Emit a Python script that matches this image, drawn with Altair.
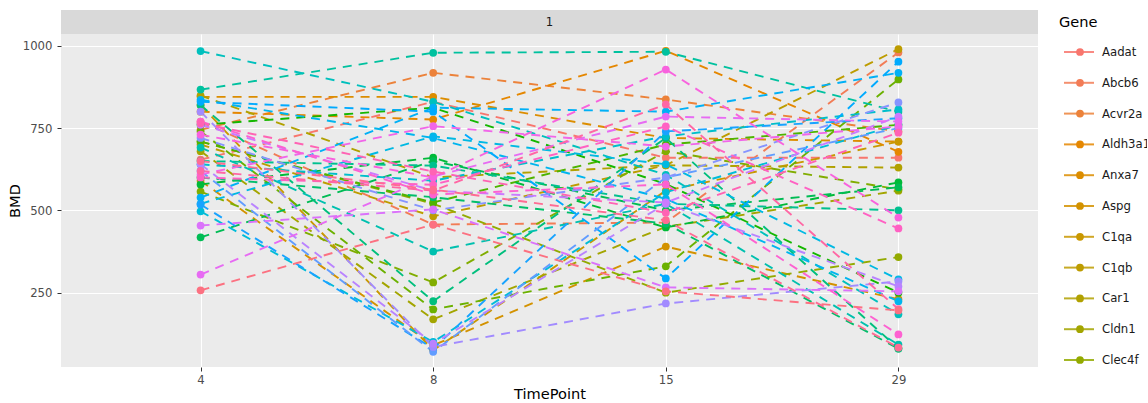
import math
import altair as alt
import pandas as pd

# ---------------- data ----------------
timepoints = [4, 8, 15, 29]
panels = ["1"]
genes = [
    "Aadat", "Abcb6", "Acvr2a", "Aldh3a1", "Anxa7", "Aspg", "C1qa", "C1qb", "Car1", "Cldn1",
    "Clec4f", "Col1a1", "Cxcl9", "Cyp1a2", "Cyp2b10", "Cyp7a1", "Dbp", "Egfr", "Fabp5", "Fgf21",
    "Gadd45b", "Gstm3", "Hamp", "Hmgcs2", "Igfbp1", "Il1b", "Lcn2", "Lpl", "Mt1", "Mt2",
    "Myc", "Nr1i3", "Orm2", "Pck1", "Ppara", "Saa1", "Serpine1", "Slc10a1", "Sult2a1", "Tff3",
    "Tnf", "Ugt2b1", "Vnn1", "Xbp1", "Zfp36",
]
bmd_t4 = [654, 770, 745, 800, 845, 590, 820, 700, 849, 680,
          709, 557, 740, 709, 760, 579, 418, 600, 820, 650,
          867, 691, 984, 640, 497, 520, 836, 539, 830, 518,
          620, 720, 800, 640, 760, 454, 305, 609, 730, 770,
          600, 765, 620, 650, 257]
bmd_t8 = [830, 457, 918, 776, 845, 90, 75, 482, 600, 169,
          520, 281, 199, 524, 812, 660, 650, 540, 224, 636,
          979, 375, 830, 590, 100, 725, 720, 812, 800, 80,
          70, 500, 85, 95, 560, 503, 603, 756, 600, 548,
          578, 618, 560, 563, 457]
bmd_t15 = [660, 463, 837, 985, 720, 390, 560, 637, 637, 450,
           250, 680, 330, 700, 580, 448, 500, 460, 720, 520,
           982, 520, 608, 725, 555, 640, 535, 800, 293, 740,
           600, 600, 217, 520, 524, 266, 785, 694, 928, 579,
           755, 493, 822, 470, 254]
bmd_t29 = [660, 980, 740, 678, 709, 230, 709, 990, 630, 560,
           358, 564, 898, 760, 250, 585, 570, 80, 80, 500,
           800, 92, 184, 807, 760, 290, 224, 918, 952, 780,
           750, 828, 284, 269, 785, 254, 770, 755, 478, 123,
           445, 736, 200, 83, 196]
legend_rows_visible = 11


# ggplot2-style hue palette (hcl, c=100, l=65)
def hcl_hex(h, c=100.0, l=65.0):
    wy, wu, wv = 100.0, 0.1978398, 0.4683363
    hr = math.radians(h)
    U, V = c * math.cos(hr), c * math.sin(hr)
    Y = wy * ((l + 16) / 116) ** 3 if l > 7.999592 else wy * l / 903.3
    u = U / (13 * l) + wu
    v = V / (13 * l) + wv
    X = 9.0 * Y * u / (4 * v)
    Z = -X / 3 - 5 * Y + 3 * Y / v

    def g(t):
        t = 1.055 * t ** (1 / 2.4) - 0.055 if t > 0.00304 else 12.92 * t
        return min(1.0, max(0.0, t))

    r = g((3.240479 * X - 1.537150 * Y - 0.498535 * Z) / wy)
    gg = g((-0.969256 * X + 1.875992 * Y + 0.041556 * Z) / wy)
    b = g((0.055648 * X - 0.204043 * Y + 1.057311 * Z) / wy)
    return "#%02X%02X%02X" % (round(r * 255), round(gg * 255), round(b * 255))


n = len(genes)
colors = [hcl_hex(15 + 360.0 * i / n) for i in range(n)]
color_scale = alt.Scale(domain=genes, range=colors)

rows = []
for gi, g in enumerate(genes):
    for tp, vals in zip(timepoints, [bmd_t4, bmd_t8, bmd_t15, bmd_t29]):
        rows.append({"Gene": g, "TimePoint": tp, "BMD": vals[gi]})
df = pd.DataFrame(rows)

FONT = "DejaVu Sans"
PW, PH = 977, 333

axis_common = dict(
    domain=False, tickColor="#333333", tickSize=4, tickWidth=1,
    labelColor="#4D4D4D", labelFontSize=11.7, labelFont=FONT,
    titleFontSize=14.6, titleFont=FONT, titleColor="#000000", titleFontWeight="normal",
    grid=True, gridColor="#FFFFFF", gridWidth=1.1,
)

base = alt.Chart(df).encode(
    x=alt.X("TimePoint:O", sort=timepoints,
            scale=alt.Scale(type="point", padding=0.6),
            axis=alt.Axis(title="TimePoint", labelAngle=0, labelPadding=3, titlePadding=1, **axis_common)),
    y=alt.Y("BMD:Q", scale=alt.Scale(domain=[24, 1036], nice=False, zero=False),
            axis=alt.Axis(title="BMD", values=[250, 500, 750, 1000], format="d",
                          labelPadding=5, titlePadding=0, **axis_common)),
    color=alt.Color("Gene:N", scale=color_scale, legend=None),
)
lines = base.mark_line(strokeDash=[9, 7], strokeWidth=1.9)
points = base.mark_circle(size=60, opacity=1)
plot = alt.layer(lines, points).properties(
    width=PW, height=PH,
    view=alt.ViewBackground(fill="#EBEBEB", strokeWidth=0),
)

# facet strip
strip_data = alt.Data(values=[{"panel": p} for p in panels])
strip_bg = alt.Chart(strip_data).mark_rect(color="#D9D9D9").encode(
    x=alt.value(0), x2=alt.value(PW), y=alt.value(0), y2=alt.value(24))
strip_txt = alt.Chart(strip_data).mark_text(fontSize=11.7, font=FONT, color="#1A1A1A").encode(
    text="panel:N", x=alt.value(PW / 2), y=alt.value(12))
strip = alt.layer(strip_bg, strip_txt).properties(
    width=PW, height=24, view=alt.ViewBackground(strokeWidth=0))

# legend (scrolled plotly-style legend: only the rows that fit are visible)
leg_df = pd.DataFrame({"Gene": genes, "idx": list(range(n))})
leg_base = alt.Chart(leg_df).transform_filter(
    alt.datum.idx < legend_rows_visible
).encode(
    y=alt.Y("idx:Q", scale=alt.Scale(domain=[0, 10], range=[42, 350], nice=False, zero=False), axis=None),
    color=alt.Color("Gene:N", scale=color_scale, legend=None),
)
leg_line = leg_base.mark_rule(strokeWidth=2, opacity=0.85).encode(x=alt.value(10), x2=alt.value(40))
leg_pt = leg_base.mark_circle(size=60, opacity=1).encode(x=alt.value(26))
leg_txt = leg_base.mark_text(align="left", baseline="middle", fontSize=11.7, font=FONT, clip=True).encode(
    x=alt.value(48), text="Gene:N", color=alt.value("#1A1A1A"))
leg_title = alt.Chart(alt.Data(values=[{"t": "Gene"}])).mark_text(
    align="left", baseline="middle", fontSize=14.6, font=FONT, color="#000000").encode(
    text="t:N", x=alt.value(5), y=alt.value(13))
legend = alt.layer(leg_line, leg_pt, leg_txt, leg_title).properties(
    width=93, height=365, view=alt.ViewBackground(strokeWidth=0))

chart = alt.hconcat(
    alt.vconcat(strip, plot, spacing=0),
    legend,
    spacing=16,
).properties(
    padding={"left": 7, "top": 10, "right": 0, "bottom": 0},
    background="white",
).configure_view(strokeWidth=0).configure(font=FONT)

chart.save("out.html", embed_options={"renderer": "svg", "actions": False})
